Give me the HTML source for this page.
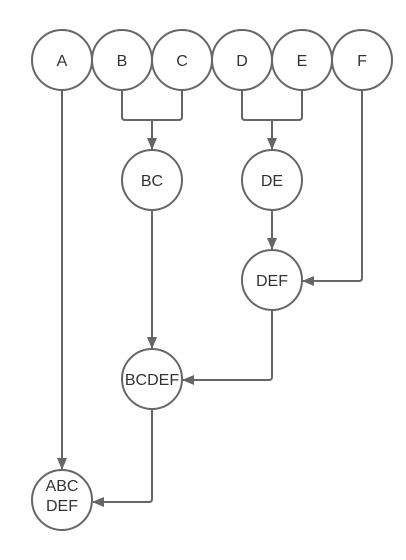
<!DOCTYPE html>
<html><head><style>body{margin:0;background:#fff}svg{display:block}</style></head><body>
<svg width="406" height="560" xmlns="http://www.w3.org/2000/svg" font-family="Liberation Sans, sans-serif" font-size="16" fill="#333">
<defs><marker id="a" markerWidth="12" markerHeight="10" refX="11" refY="5" orient="auto" markerUnits="userSpaceOnUse"><path d="M0,0 L12,5 L0,10 z" fill="#666"/></marker></defs>
<g stroke="#666" stroke-width="2" fill="none">
<circle cx="62" cy="60" r="30"/><circle cx="122" cy="60" r="30"/><circle cx="182" cy="60" r="30"/>
<circle cx="242" cy="60" r="30"/><circle cx="302" cy="60" r="30"/><circle cx="362" cy="60" r="30"/>
<circle cx="152" cy="180" r="30"/><circle cx="272" cy="180" r="30"/><circle cx="272" cy="280" r="30"/>
<circle cx="152" cy="379" r="30"/><circle cx="62" cy="500" r="30"/>
<path d="M122 90 V117 Q122 120 125 120 H179 Q182 120 182 117 V90"/>
<path d="M152 120 V149" marker-end="url(#a)"/>
<path d="M242 90 V117 Q242 120 245 120 H299 Q302 120 302 117 V90"/>
<path d="M272 120 V149" marker-end="url(#a)"/>
<path d="M272 210 V249" marker-end="url(#a)"/>
<path d="M362 90 V278 Q362 281 359 281 H303" marker-end="url(#a)"/>
<path d="M272 310 V377 Q272 380 269 380 H183" marker-end="url(#a)"/>
<path d="M152 210 V348" marker-end="url(#a)"/>
<path d="M62 90 V469" marker-end="url(#a)"/>
<path d="M152 409 V499 Q152 502 149 502 H93" marker-end="url(#a)"/>
</g>
<g text-anchor="middle" stroke="none">
<text x="62" y="66">A</text><text x="122" y="66">B</text><text x="182" y="66">C</text>
<text x="242" y="66">D</text><text x="302" y="66">E</text><text x="362" y="66">F</text>
<text x="152" y="186">BC</text><text x="272" y="186">DE</text><text x="272" y="286">DEF</text>
<text x="152" y="385">BCDEF</text>
<text x="62" y="491">ABC</text><text x="62" y="511">DEF</text>
</g>
</svg>
</body></html>
